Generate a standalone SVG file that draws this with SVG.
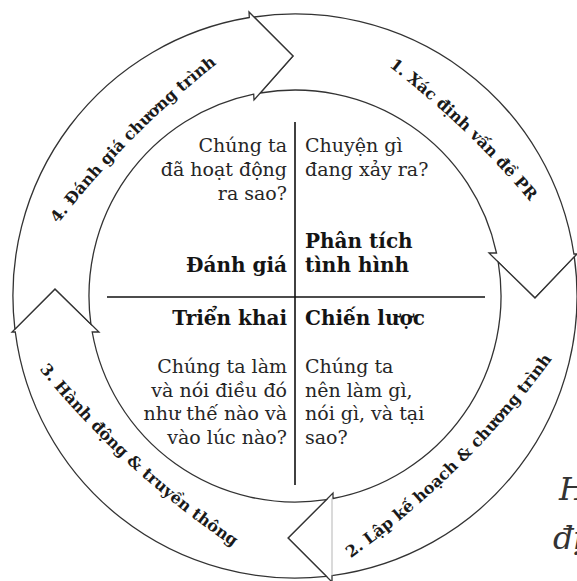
<svg xmlns="http://www.w3.org/2000/svg" width="577" height="581" viewBox="0 0 577 581">
<style>
.arrow{fill:#fff;stroke:#333;stroke-width:1.3;stroke-linejoin:miter}
.lbl{font-family:"DejaVu Serif","Liberation Serif",serif;font-weight:bold;font-size:16px;fill:#1a1a1a}
.q{font-family:"DejaVu Serif","Liberation Serif",serif;font-size:19px;fill:#262626}
.h{font-family:"DejaVu Serif","Liberation Serif",serif;font-size:20px;font-weight:bold;fill:#141414}
.r{text-anchor:end}
.cap{font-family:"DejaVu Serif","Liberation Serif",serif;font-style:italic;font-size:32px;fill:#333}
</style>
<defs>
<path id="p1" d="M 338.6 30.4 A 900 900 0 0 1 567.8 250"/>
<path id="p2" d="M 336.2 568.3 A 900 900 0 0 0 562.6 344.5"/>
<path id="p3" d="M 21.8 347.1 A 900 900 0 0 0 256.8 562.1"/>
<path id="p4" d="M 30.5 261.7 A 900 900 0 0 1 254.7 35.9"/>
</defs>
<rect width="577" height="581" fill="#fff"/>
<g id="arrow1">
<path class="arrow" d="M 254 17 A 282 282 0 0 1 573.9 254 L 577 254 L 535 298 L 489 253 L 496.5 253 A 206 206 0 0 0 260.2 93 L 293 56 Z"/>
<text class="lbl"><textPath href="#p1" startOffset="50%" text-anchor="middle">1. Xác định vấn đề PR</textPath></text>
</g>
<g id="arrow2">
<path class="arrow" d="M 574.3 256.9 A 282 282 0 0 1 332 575.6 L 332 582 L 288 538 L 333 493 L 333 498.5 A 206 206 0 0 0 498.2 262 L 535 298 Z"/>
<line x1="332" y1="498.5" x2="332" y2="575.6" stroke="#b5b5b5" stroke-width="1"/>
<text class="lbl"><textPath href="#p2" startOffset="50%" text-anchor="middle">2. Lập kế hoạch &amp; chương trình</textPath></text>
</g>
<g id="arrow3">
<path class="arrow" d="M 326.3 576.3 A 282 282 0 0 1 15.3 332 L 12 332 L 55 289 L 99 332 L 92.2 332 A 206 206 0 0 0 326.4 499.6 L 288 538 Z"/>
<text class="lbl"><textPath href="#p3" startOffset="50%" text-anchor="middle">3. Hành động &amp; truyền thông</textPath></text>
</g>
<g id="arrow4">
<path class="arrow" d="M 14.9 329.1 A 282 282 0 0 1 249.3 17.5 L 249 12 L 293 56 L 254 100 L 253.7 94.2 A 206 206 0 0 0 90.9 324.1 L 55 289 Z"/>
<text class="lbl"><textPath href="#p4" startOffset="50%" text-anchor="middle">4. Đánh giá chương trình</textPath></text>
</g>
<g id="connectors">
<line x1="295" y1="122" x2="295" y2="485" stroke="#111" stroke-width="1.6"/>
<line x1="107" y1="297" x2="485" y2="297" stroke="#111" stroke-width="1.6"/>
</g>
<g id="q-danhgia">
<text class="q r" x="287" y="152">Chúng ta</text>
<text class="q r" x="287" y="176">đã hoạt động</text>
<text class="q r" x="287" y="200">ra sao?</text>
<text class="h r" x="287" y="272">Đánh giá</text>
</g>
<g id="q-phantich">
<text class="q" x="305" y="152">Chuyện gì</text>
<text class="q" x="305" y="176">đang xảy ra?</text>
<text class="h" x="305" y="248">Phân tích</text>
<text class="h" x="305" y="272">tình hình</text>
</g>
<g id="q-trienkhai">
<text class="h r" x="287" y="325">Triển khai</text>
<text class="q r" x="287" y="373">Chúng ta làm</text>
<text class="q r" x="287" y="396.5">và nói điều đó</text>
<text class="q r" x="287" y="420">như thế nào và</text>
<text class="q r" x="287" y="443.5">vào lúc nào?</text>
</g>
<g id="q-chienluoc">
<text class="h" x="305" y="325">Chiến lược</text>
<text class="q" x="305" y="373">Chúng ta</text>
<text class="q" x="305" y="396.5">nên làm gì,</text>
<text class="q" x="305" y="420">nói gì, và tại</text>
<text class="q" x="305" y="443.5">sao?</text>
</g>
<g id="caption">
<text class="cap" x="559" y="500">H</text>
<text class="cap" x="553" y="549">đị</text>
</g>
</svg>
